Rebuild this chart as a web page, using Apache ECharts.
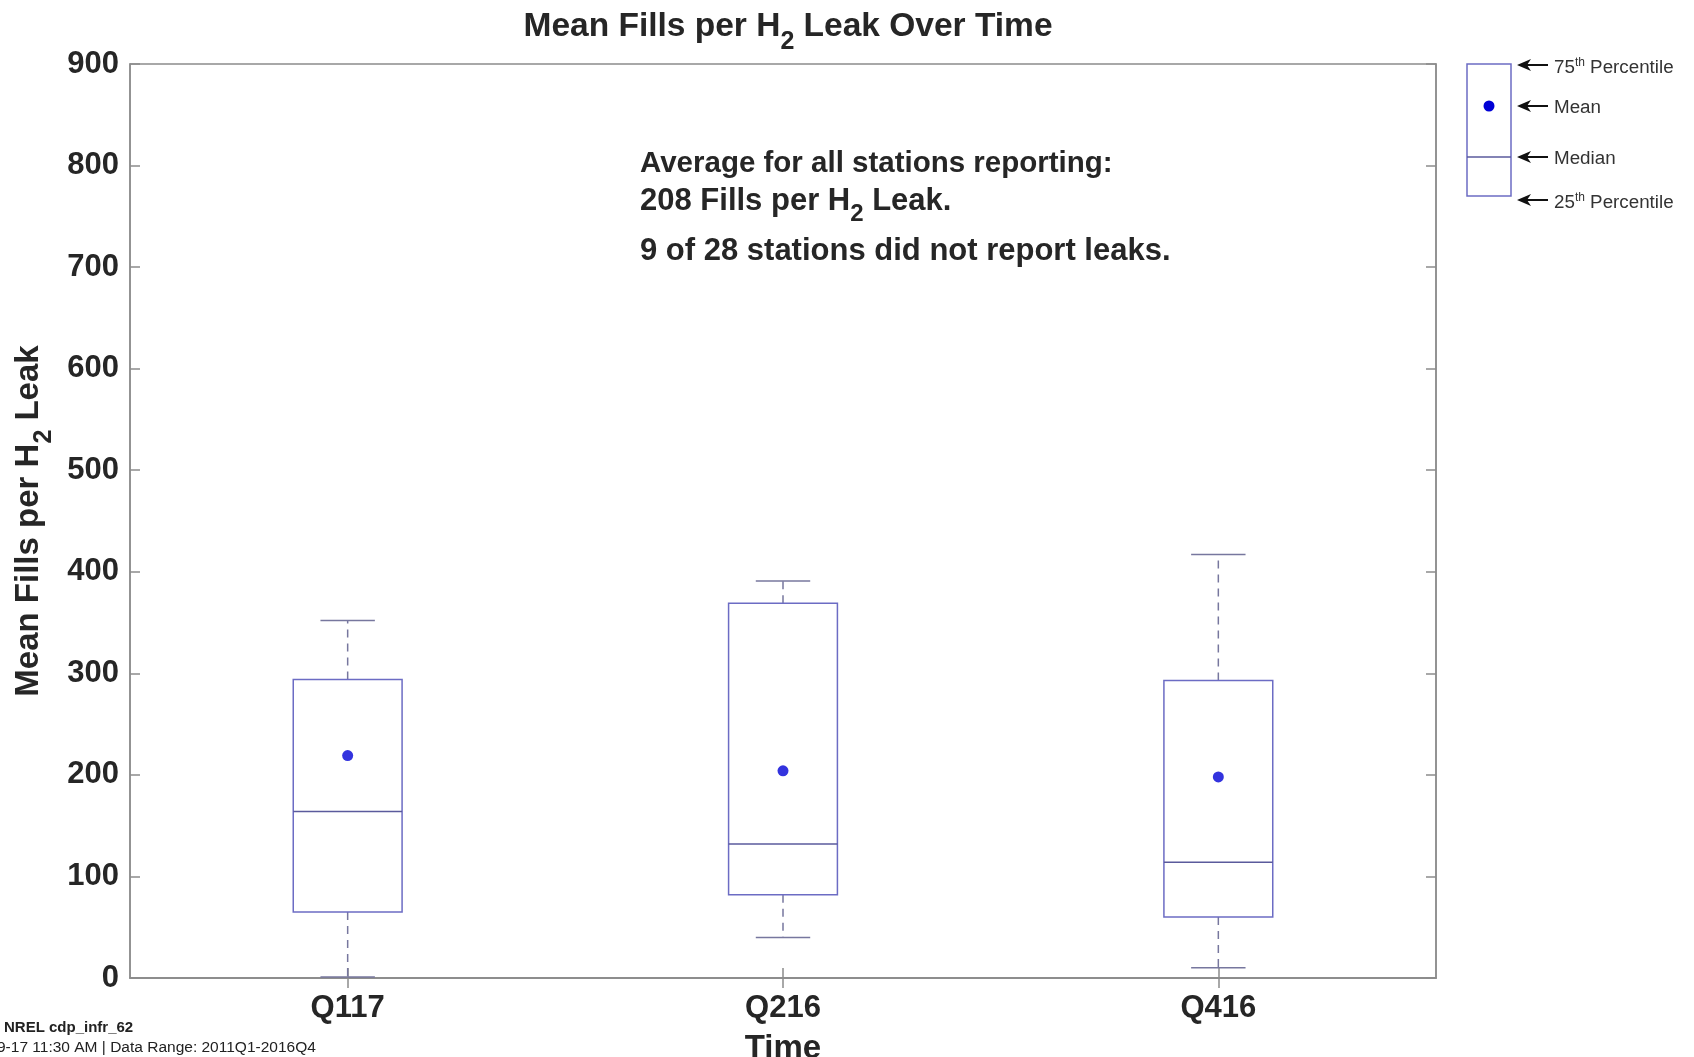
<!DOCTYPE html>
<html>
<head>
<meta charset="utf-8">
<script src="https://cdn.jsdelivr.net/npm/echarts@6/dist/echarts.min.js"></script>
<style>
html,body{margin:0;padding:0;background:#fff;}
#chart{width:1694px;height:1057px;}
</style>
</head>
<body>
<div id="chart"></div>
<script>
// ---- data ----
const categories = ['Q117', 'Q216', 'Q416'];
const whiskerLow = [1, 40, 10];
const q1 = [65, 82, 60];
const median = [164, 132, 114];
const q3 = [294, 369, 293];
const whiskerHigh = [352, 391, 417];
const means = [219, 204, 198];
const yTicks = [0, 100, 200, 300, 400, 500, 600, 700, 800, 900];

const FONT = '"Liberation Sans", Arial, Helvetica, sans-serif';
const TXT = '#262626';
const AX = '#8c8c8c';
const BOX = '#6c6cc4';
const WHISK = '#77779e';
const MED = '#5a5a9c';

const boxData = categories.map((c, i) => [i, whiskerLow[i], q1[i], median[i], q3[i], whiskerHigh[i]]);
const meanData = categories.map((c, i) => [i, means[i]]);

const chart = echarts.init(document.getElementById('chart'), null, {renderer: 'canvas'});

function renderBox(params, api) {
  const i = api.value(0);
  const lo = api.coord([i, api.value(1)]);
  const a = api.coord([i, api.value(2)]);
  const m = api.coord([i, api.value(3)]);
  const b = api.coord([i, api.value(4)]);
  const hi = api.coord([i, api.value(5)]);
  const band = api.size([1, 0])[0];
  const bw = band * 0.25;
  const cw = bw / 2;
  const x = lo[0];
  return {
    type: 'group',
    children: [
      {type: 'line', shape: {x1: x, y1: b[1], x2: x, y2: hi[1]}, style: {stroke: WHISK, lineWidth: 1.5, lineDash: [8, 6]}},
      {type: 'line', shape: {x1: x, y1: a[1], x2: x, y2: lo[1]}, style: {stroke: WHISK, lineWidth: 1.5, lineDash: [8, 6]}},
      {type: 'line', shape: {x1: x - cw / 2, y1: hi[1], x2: x + cw / 2, y2: hi[1]}, style: {stroke: WHISK, lineWidth: 1.5}},
      {type: 'line', shape: {x1: x - cw / 2, y1: lo[1], x2: x + cw / 2, y2: lo[1]}, style: {stroke: WHISK, lineWidth: 1.5}},
      {type: 'rect', shape: {x: x - bw / 2, y: b[1], width: bw, height: a[1] - b[1]}, style: {fill: 'none', stroke: BOX, lineWidth: 1.5}},
      {type: 'line', shape: {x1: x - bw / 2, y1: m[1], x2: x + bw / 2, y2: m[1]}, style: {stroke: MED, lineWidth: 1.5}}
    ]
  };
}

function arrow(xTip, y) {
  return [
    {type: 'polygon', shape: {points: [[xTip, y], [xTip + 14, y - 6], [xTip + 10, y], [xTip + 14, y + 6]]}, style: {fill: '#111'}},
    {type: 'line', shape: {x1: xTip + 8, y1: y, x2: xTip + 31, y2: y}, style: {stroke: '#111', lineWidth: 2}}
  ];
}

const legendX = 1467, legendTop = 64, legendW = 44, legendH = 132;
const legendLabelStyle = {fontFamily: FONT, fontSize: 18.8, fill: '#333'};
const supRich = {sup: {fontFamily: FONT, fontSize: 12, fill: '#333', padding: [0, 0, 11, 0]}};

const option = {
  backgroundColor: '#fff',
  animation: false,
  title: {
    text: 'Mean Fills per H{sub|2} Leak Over Time',
    left: 783, top: -7, textAlign: 'center',
    textStyle: {
      fontFamily: FONT, fontSize: 33.5, fontWeight: 'bold', color: TXT,
      rich: {sub: {fontFamily: FONT, fontSize: 25, fontWeight: 'bold', color: TXT, padding: [32, 0, 0, 0]}}
    }
  },
  grid: {left: 130, top: 64, width: 1306, height: 914, show: true, borderColor: AX, borderWidth: 1.5,
    containLabel: false, outerBoundsMode: 'none'},
  xAxis: [
    {
      type: 'category', data: categories, boundaryGap: true, position: 'bottom',
      axisLine: {show: true, lineStyle: {color: AX, width: 1.5}},
      axisTick: {show: true, inside: true, alignWithLabel: true, length: 10, lineStyle: {color: AX, width: 1.5}},
      axisLabel: {fontFamily: FONT, fontSize: 31, fontWeight: 'bold', color: TXT, margin: 15},
      name: 'Time', nameLocation: 'middle', nameGap: 54,
      nameTextStyle: {fontFamily: FONT, fontSize: 33, fontWeight: 'bold', color: TXT},
      splitLine: {show: false}
    },
    {
      type: 'category', data: categories, boundaryGap: true, position: 'top',
      axisLine: {show: true, lineStyle: {color: AX, width: 1.5}},
      axisTick: {show: true, inside: true, alignWithLabel: true, length: 10, lineStyle: {color: AX, width: 1.5}},
      axisLabel: {show: false}, splitLine: {show: false}
    }
  ],
  yAxis: [
    {
      type: 'value', min: 0, max: 900, interval: 100, position: 'left',
      axisLine: {show: true, lineStyle: {color: AX, width: 1.5}},
      axisTick: {show: true, inside: true, length: 10, lineStyle: {color: AX, width: 1.5}},
      axisLabel: {fontFamily: FONT, fontSize: 31, fontWeight: 'bold', color: TXT, margin: 11,
        formatter: v => (yTicks.indexOf(v) >= 0 ? String(v) : '')},
      splitLine: {show: false},
      name: 'Mean Fills per H{sub|2} Leak', nameLocation: 'middle', nameGap: 68, nameRotate: 90,
      nameTextStyle: {fontFamily: FONT, fontSize: 33, fontWeight: 'bold', color: TXT,
        rich: {sub: {fontFamily: FONT, fontSize: 25, fontWeight: 'bold', color: TXT, padding: [30, 0, 0, 0]}}}
    },
    {
      type: 'value', min: 0, max: 900, interval: 100, position: 'right',
      axisLine: {show: true, lineStyle: {color: AX, width: 1.5}},
      axisTick: {show: true, inside: true, length: 10, lineStyle: {color: AX, width: 1.5}},
      axisLabel: {show: false}, splitLine: {show: false}
    }
  ],
  series: [
    {
      type: 'custom', xAxisIndex: 0, yAxisIndex: 0,
      renderItem: renderBox,
      encode: {x: 0, y: [1, 2, 3, 4, 5]},
      data: boxData, z: 2, silent: true
    },
    {
      type: 'scatter', xAxisIndex: 0, yAxisIndex: 0,
      data: meanData, symbol: 'circle', symbolSize: 11,
      itemStyle: {color: '#0000d6'}, z: 3, silent: true
    }
  ],
  graphic: [
    {
      type: 'text', x: 640, y: 164,
      style: {text: 'Average for all stations reporting:', fontFamily: FONT, fontSize: 29.5, fontWeight: 'bold', fill: TXT, verticalAlign: 'middle'}
    },
    {
      type: 'text', x: 640, y: 201,
      style: {
        text: '208 Fills per H{sub|2} Leak.',
        fontFamily: FONT, fontSize: 31, fontWeight: 'bold', fill: TXT, verticalAlign: 'middle',
        rich: {sub: {fontFamily: FONT, fontSize: 24, fontWeight: 'bold', fill: TXT, padding: [26, 0, 0, 0]}}
      }
    },
    {
      type: 'text', x: 640, y: 251,
      style: {text: '9 of 28 stations did not report leaks.', fontFamily: FONT, fontSize: 31, fontWeight: 'bold', fill: TXT, verticalAlign: 'middle'}
    },
    {type: 'text', left: 4, top: 1020, style: {text: 'NREL cdp_infr_62', fontFamily: FONT, fontSize: 15, fontWeight: 'bold', fill: '#222'}},
    {type: 'text', left: -3, top: 1040, style: {text: '9-17 11:30 AM | Data Range: 2011Q1-2016Q4', fontFamily: FONT, fontSize: 15.5, fill: '#222'}},
    // legend
    {type: 'rect', shape: {x: legendX, y: legendTop, width: legendW, height: legendH}, style: {fill: '#fff', stroke: BOX, lineWidth: 1.5}},
    {type: 'line', shape: {x1: legendX, y1: 157, x2: legendX + legendW, y2: 157}, style: {stroke: MED, lineWidth: 1.5}},
    {type: 'circle', shape: {cx: 1489, cy: 106, r: 5.5}, style: {fill: '#0000d6'}},
    ...arrow(1517, 65), ...arrow(1517, 106), ...arrow(1517, 157), ...arrow(1517, 200),
    {type: 'text', x: 1554, y: 68, style: Object.assign({text: '75{sup|th} Percentile', verticalAlign: 'middle', rich: supRich}, legendLabelStyle)},
    {type: 'text', x: 1554, y: 108, style: Object.assign({text: 'Mean', verticalAlign: 'middle'}, legendLabelStyle)},
    {type: 'text', x: 1554, y: 159, style: Object.assign({text: 'Median', verticalAlign: 'middle'}, legendLabelStyle)},
    {type: 'text', x: 1554, y: 203, style: Object.assign({text: '25{sup|th} Percentile', verticalAlign: 'middle', rich: supRich}, legendLabelStyle)}
  ]
};

chart.setOption(option);
</script>
</body>
</html>
